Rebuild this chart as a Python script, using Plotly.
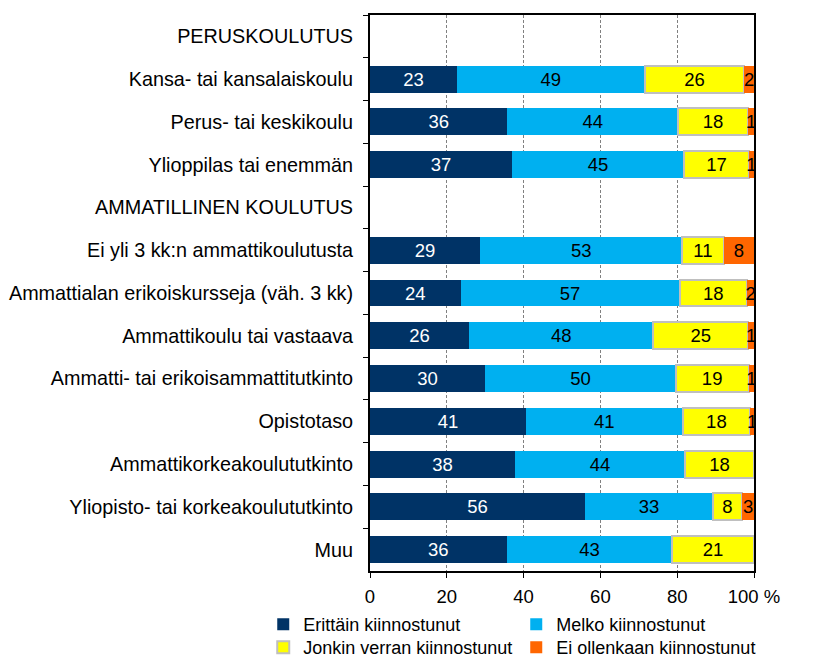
import plotly.graph_objects as go

categories = [
    "PERUSKOULUTUS",
    "Kansa- tai kansalaiskoulu",
    "Perus- tai keskikoulu",
    "Ylioppilas tai enemmän",
    "AMMATILLINEN KOULUTUS",
    "Ei yli 3 kk:n ammattikoulutusta",
    "Ammattialan erikoiskursseja (väh. 3 kk)",
    "Ammattikoulu tai vastaava",
    "Ammatti- tai erikoisammattitutkinto",
    "Opistotaso",
    "Ammattikorkeakoulututkinto",
    "Yliopisto- tai korkeakoulututkinto",
    "Muu",
]

# bar lengths (percent)
erittain = [None, 22.7, 35.8, 37.0, None, 28.7, 23.6, 25.8, 30.0, 40.6, 37.8, 56.0, 35.6]
melko    = [None, 48.8, 44.4, 44.8, None, 52.6, 57.0, 48.0, 49.6, 40.8, 44.2, 33.3, 43.1]
jonkin   = [None, 26.0, 18.3, 16.9, None, 10.8, 17.6, 24.7, 19.0, 17.6, 18.0, 7.6, 21.3]
ei       = [None, 2.5, 1.5, 1.3, None, 7.9, 1.8, 1.5, 1.4, 1.0, None, 3.1, None]

# printed labels
erittain_lbl = ["", "23", "36", "37", "", "29", "24", "26", "30", "41", "38", "56", "36"]
melko_lbl    = ["", "49", "44", "45", "", "53", "57", "48", "50", "41", "44", "33", "43"]
jonkin_lbl   = ["", "26", "18", "17", "", "11", "18", "25", "19", "18", "18", "8", "21"]
ei_lbl       = ["", "2", "1", "1", "", "8", "2", "1", "1", "1", "", "3", ""]

series_names = ["Erittäin kiinnostunut", "Melko kiinnostunut",
                "Jonkin verran kiinnostunut", "Ei ollenkaan kiinnostunut"]
series_values = [erittain, melko, jonkin, ei]
series_labels = [erittain_lbl, melko_lbl, jonkin_lbl, ei_lbl]
colors = ["#003366", "#00B0F0", "#FFFF00", "#FF6600"]
text_colors = ["white", "black", "black", "black"]
line_colors = [None, None, "#BFBFBF", None]
legend_ids = ["legend", "legend", "legend2", "legend2"]

x_tickvals = [0, 20, 40, 60, 80, 100]
x_ticktext = ["0", "20", "40", "60", "80", "100 %"]

FONT = "Liberation Sans, Arial, sans-serif"

fig = go.Figure()
for name, vals, lbls, col, tcol, lcol, lg in zip(series_names, series_values, series_labels,
                                                  colors, text_colors, line_colors, legend_ids):
    fig.add_trace(go.Bar(
        y=categories,
        x=vals,
        name=name,
        legend=lg,
        orientation="h",
        marker=dict(color=col,
                    line=dict(color=lcol if lcol else col, width=2 if lcol else 0)),
        text=lbls,
        textposition="inside",
        insidetextanchor="middle",
        textangle=0,
        constraintext="none",
        textfont=dict(color=tcol, size=18.5, family=FONT),
        hoverinfo="x+y+name",
    ))

legend_common = dict(
    orientation="h",
    x=-0.278, xanchor="left",
    yanchor="top",
    entrywidth=208,
    entrywidthmode="pixels",
    font=dict(size=18, family=FONT),
    traceorder="normal",
    bgcolor="rgba(0,0,0,0)",
)

fig.update_layout(
    barmode="stack",
    bargap=0.37,
    width=814,
    height=666,
    margin=dict(l=370, r=60, t=15, b=95, autoexpand=False),
    paper_bgcolor="white",
    plot_bgcolor="white",
    font=dict(family=FONT, size=18, color="black"),
    uniformtext=dict(minsize=18, mode="show"),
    showlegend=True,
    legend=dict(legend_common, y=-0.063),
    legend2=dict(legend_common, y=-0.1043),
    xaxis=dict(
        range=[0, 100],
        tickvals=x_tickvals,
        ticktext=x_ticktext,
        ticks="outside",
        ticklen=5,
        tickcolor="black",
        showgrid=True,
        gridcolor="#808080",
        griddash="3px,2px",
        gridwidth=1,
        showline=True,
        linecolor="black",
        linewidth=2,
        mirror=True,
        zeroline=False,
        ticklabelstandoff=3,
        tickfont=dict(size=18.5),
    ),
    yaxis=dict(
        categoryorder="array",
        categoryarray=categories,
        autorange="reversed",
        ticks="outside",
        ticklen=5,
        tickcolor="black",
        tickson="boundaries",
        showline=True,
        linecolor="black",
        linewidth=2,
        mirror=True,
        showgrid=False,
        ticklabelstandoff=11,
        tickfont=dict(size=19.8),
    ),
)

fig.write_html("out.html")
